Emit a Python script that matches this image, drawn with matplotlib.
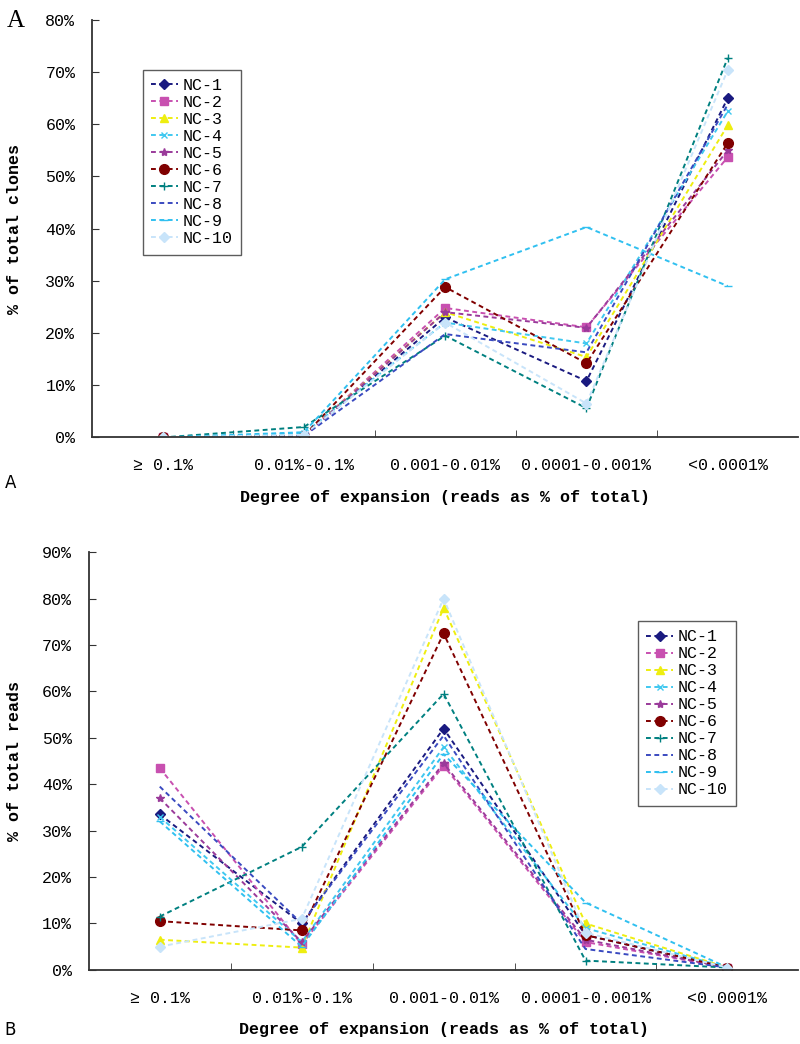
import matplotlib
matplotlib.use('Agg')
import matplotlib.pyplot as plt
from matplotlib.ticker import PercentFormatter, FixedLocator

plt.rcParams['font.family'] = ['Liberation Mono', 'DejaVu Sans Mono']

categories = ['\u2265 0.1%', '0.01%-0.1%', '0.001-0.01%', '0.0001-0.001%', '<0.0001%']
series_names = ['NC-1', 'NC-2', 'NC-3', 'NC-4', 'NC-5', 'NC-6', 'NC-7', 'NC-8', 'NC-9', 'NC-10']

# panel A: % of total clones
clones = {
    'NC-1': [0.0, 0.3, 23.0, 10.8, 65.0],
    'NC-2': [0.0, 0.2, 24.8, 21.1, 53.7],
    'NC-3': [0.0, 0.3, 24.0, 15.4, 59.8],
    'NC-4': [0.0, 0.8, 22.0, 18.0, 62.5],
    'NC-5': [0.0, 0.2, 24.0, 21.0, 55.0],
    'NC-6': [0.0, 0.3, 28.8, 14.2, 56.4],
    'NC-7': [0.0, 2.0, 19.5, 5.6, 72.7],
    'NC-8': [0.0, 0.3, 19.8, 16.3, 63.8],
    'NC-9': [0.0, 1.0, 30.3, 40.3, 29.0],
    'NC-10': [0.0, 0.5, 22.0, 6.5, 70.4],
}

# panel B: % of total reads
reads = {
    'NC-1': [33.5, 10.0, 52.0, 7.5, 0.5],
    'NC-2': [43.5, 5.5, 44.0, 6.0, 0.5],
    'NC-3': [6.5, 4.8, 78.0, 10.0, 0.5],
    'NC-4': [33.0, 6.0, 48.0, 9.0, 0.5],
    'NC-5': [37.0, 6.0, 44.5, 6.5, 0.5],
    'NC-6': [10.5, 8.5, 72.5, 7.5, 0.5],
    'NC-7': [11.5, 26.5, 59.5, 2.0, 0.5],
    'NC-8': [39.5, 10.0, 50.5, 4.5, 0.5],
    'NC-9': [32.0, 5.0, 46.5, 14.5, 0.5],
    'NC-10': [5.0, 11.0, 80.0, 8.0, 0.5],
}

styles = {
    'NC-1': dict(color='#1a1a80', marker='D', ms=5),
    'NC-2': dict(color='#c850b0', marker='s', ms=6),
    'NC-3': dict(color='#eeee10', marker='^', ms=6),
    'NC-4': dict(color='#40c8f0', marker='x', ms=5),
    'NC-5': dict(color='#9a3a9a', marker='*', ms=6),
    'NC-6': dict(color='#800000', marker='o', ms=7),
    'NC-7': dict(color='#008080', marker='+', ms=6),
    'NC-8': dict(color='#3a4ac0', marker='None', ms=5),
    'NC-9': dict(color='#30c0f0', marker='_', ms=6),
    'NC-10': dict(color='#c8e4fa', marker='D', ms=5),
}

fig = plt.figure(figsize=(8, 10.44), dpi=100)
ax1 = fig.add_axes([0.115, 0.581, 0.883, 0.400])
ax2 = fig.add_axes([0.111, 0.071, 0.887, 0.400])


def draw(ax, data, ymax, ylabel, legend_loc, label_x):
    x = range(len(categories))
    for name in series_names:
        st = styles[name]
        ax.plot(x, data[name], linestyle=(0, (2.5, 1.8)), linewidth=1.4,
                color=st['color'], marker=st['marker'], markersize=st['ms'],
                markeredgecolor=st['color'], label=name)
    ax.set_xlim(-0.5, len(categories) - 0.5)
    ax.set_ylim(0, ymax)
    ax.yaxis.set_major_formatter(PercentFormatter(decimals=0))
    ax.set_yticks(range(0, ymax + 1, 10))
    ax.set_xticks(list(x))
    ax.set_xticklabels(categories, fontsize=12)
    ax.xaxis.set_minor_locator(FixedLocator([i + 0.5 for i in range(len(categories) - 1)]))
    ax.tick_params(axis='x', which='major', length=0, pad=15)
    ax.tick_params(axis='x', which='minor', direction='in', length=5, color='#333333')
    ax.tick_params(axis='y', direction='in', length=5, labelsize=12, pad=12, color='#333333')
    ax.spines['top'].set_visible(False)
    ax.spines['right'].set_visible(False)
    ax.spines['left'].set_color('#333333')
    ax.spines['bottom'].set_color('#333333')
    ax.spines['left'].set_linewidth(1.3)
    ax.spines['bottom'].set_linewidth(1.3)
    ax.set_xlabel('Degree of expansion (reads as % of total)', fontsize=12,
                  fontweight='bold', labelpad=12)
    ax.set_ylabel(ylabel, fontsize=12, fontweight='bold')
    ax.yaxis.set_label_coords(label_x, 0.5)
    leg = ax.legend(loc='upper left', bbox_to_anchor=legend_loc, fontsize=12,
                    frameon=True, fancybox=False, edgecolor='#333333',
                    handlelength=1.6, labelspacing=0.12, borderpad=0.5,
                    handletextpad=0.3)
    leg.get_frame().set_linewidth(1.0)


draw(ax1, clones, 80, '% of total clones', (0.06, 0.90), -0.099)
draw(ax2, reads, 90, '% of total reads', (0.762, 0.855), -0.094)

fig.text(0.008, 0.99, 'A', fontsize=18, va='top', ha='left', family='Liberation Serif')
fig.text(0.006, 0.537, 'A', fontsize=12, va='center', ha='left', family='DejaVu Sans')
fig.text(0.006, 0.013, 'B', fontsize=12, va='center', ha='left', family='DejaVu Sans')

fig.savefig('out.png', dpi=100)
